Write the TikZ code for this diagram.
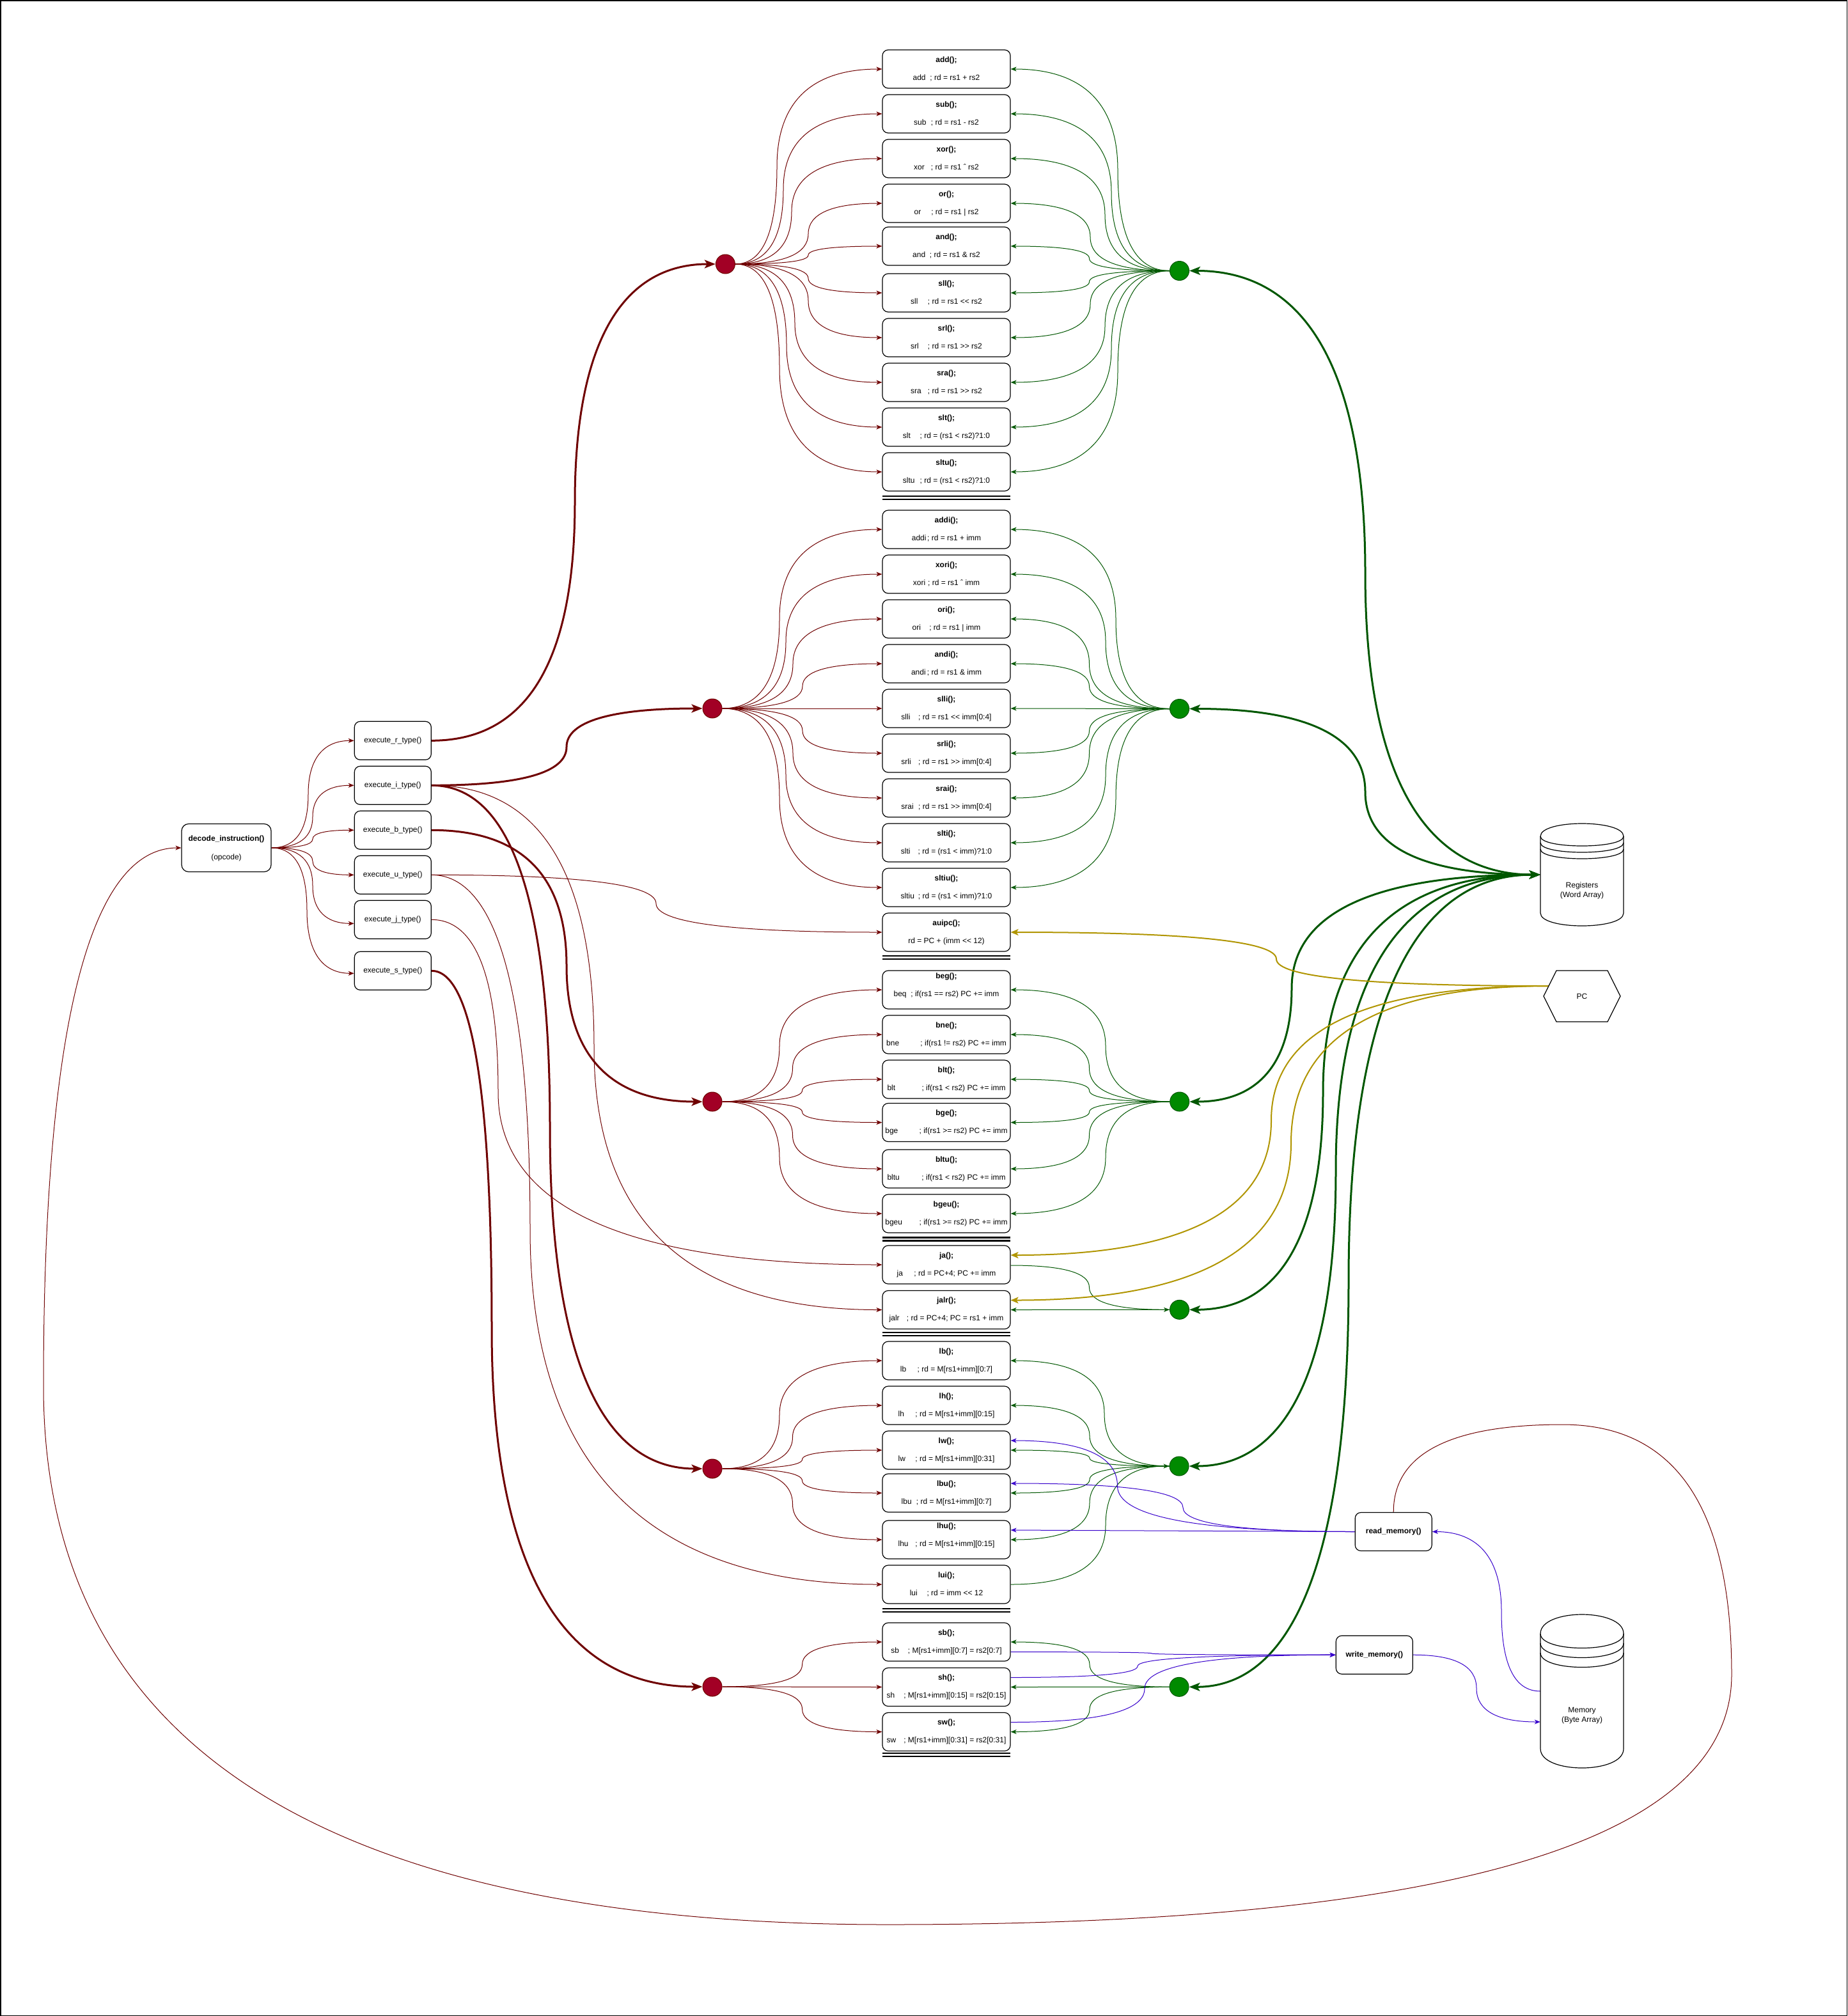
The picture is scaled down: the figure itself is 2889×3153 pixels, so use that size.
\documentclass[tikz,border=0pt]{standalone}
\usepackage{fontspec}
\setmainfont{Liberation Sans}
\usetikzlibrary{arrows.meta,calc}

\definecolor{dred}{HTML}{6F0000}
\definecolor{cred}{HTML}{A20025}
\definecolor{dgreen}{HTML}{005700}
\definecolor{cgreen}{HTML}{008A00}
\definecolor{gold}{HTML}{B09500}
\definecolor{indigo}{HTML}{3700CC}

\pgfdeclarelayer{bg}
\pgfdeclarelayer{edges}
\pgfsetlayers{bg,edges,main}

% shift operators without the << / >> guillemet mapping
\newcommand\shl{<\kern0pt<}
\newcommand\shr{>\kern0pt>}
% mnemonic column of a description line
\newcommand\mnem[2][26.7pt]{\makebox[#1][l]{#2}}

\tikzset{
  every node/.style={font=\fontsize{12}{14}\selectfont, inner sep=0pt},
  bt/.style={font=\fontsize{12}{14}\selectfont\bfseries},
  box/.style={draw, line width=1.2pt, rounded corners=9pt, fill=white},
  ibox/.style={box, minimum width=200pt, minimum height=60pt},
  ebox/.style={box, minimum width=120pt, minimum height=60pt},
  rdot/.style={circle, draw=dred, fill=cred, line width=1pt, minimum size=30pt},
  gdot/.style={circle, draw=dgreen, fill=cgreen, line width=1pt, minimum size=30pt},
  sepline/.style={line width=2.2pt},
  tipS/.tip={Stealth[length=9pt,width=7pt,inset=2.5pt]},
  tipL/.tip={Stealth[length=17pt,width=13pt,inset=4pt]},
  tipM/.tip={Stealth[length=12pt,width=10pt,inset=3pt]},
  rl/.style={draw=dred, line width=1pt, -tipS},
  rk/.style={draw=dred, line width=3pt, -tipL},
  gl/.style={draw=dgreen, line width=1pt, -tipS},
  gk/.style={draw=dgreen, line width=3pt, tipL-tipL},
  yl/.style={draw=gold, line width=2pt, -tipM},
  bl/.style={draw=indigo, line width=1pt, -tipS},
  % curved orthogonal connector: two quadratic arcs through a vertical run at x=#1
  dq/.style={to path={
    let \p1=(\tikztostart), \p2=(\tikztotarget) in
    .. controls ({\x1+2/3*(#1pt-\x1)},\y1) and (#1pt,{\y1+(\y2-\y1)/6})
    .. (#1pt,{\y1/2+\y2/2})
    .. controls (#1pt,{\y2-(\y2-\y1)/6}) and ({\x2+2/3*(#1pt-\x2)},\y2)
    .. (\x2,\y2) \tikztonodes}}
}

% instruction box: [text offset] name, centre y, title, description
\newcommand\instrbox[5][0]{%
  \node[ibox] (#2) at (1480,#3) {};
  \node[bt] (#2-t) at (1480,{#3-14+#1}) {#4};
  \node (#2-d) at (1480,{#3+14+#1}) {#5};
}
% group separator (double rule)
\newcommand\groupsep[1]{%
  \draw[sepline] (1380,#1) -- (1580,#1);
  \draw[sepline] (1380,{#1+5}) -- (1580,{#1+5});
}
% datastore cylinder: x0, y0, width, height, cap depth
\newcommand\datastoreshape[5]{%
  \draw[line width=1.2pt, fill=white] (#1,{#2+#5}) .. controls (#1,{#2-#5/3}) and ({#1+#3},{#2-#5/3}) .. ({#1+#3},{#2+#5})
    -- ({#1+#3},{#2+#4-#5}) .. controls ({#1+#3},{#2+#4+#5/3}) and (#1,{#2+#4+#5/3}) .. (#1,{#2+#4-#5}) -- cycle;
  \draw[line width=1.2pt] (#1,{#2+#5}) .. controls (#1,{#2+2*#5}) and ({#1+#3},{#2+2*#5}) .. ({#1+#3},{#2+#5});
  \draw[line width=1.2pt] (#1,{#2+1.5*#5}) .. controls (#1,{#2+2.5*#5}) and ({#1+#3},{#2+2.5*#5}) .. ({#1+#3},{#2+1.5*#5});
  \draw[line width=1.2pt] (#1,{#2+2*#5}) .. controls (#1,{#2+3*#5}) and ({#1+#3},{#2+3*#5}) .. ({#1+#3},{#2+2*#5});
}

\begin{document}
\begin{tikzpicture}[x=1pt,y=-1pt]
\begin{pgfonlayer}{bg}
  \fill[white] (0,0) rectangle (2889,3153);
\end{pgfonlayer}
\useasboundingbox (0,0) rectangle (2889,3153);
\draw[line width=1.5pt] (0.75,0.75) rectangle (2888.25,3152.25);

% ---------------- decoder and dispatchers ----------------
\node[box, minimum width=140pt, minimum height=75pt, rounded corners=11pt] (dec) at (354,1326) {};
\node[bt] (dec-t) at (354,1312) {decode\_instruction()};
\node (dec-d) at (354,1341) {(opcode)};

\node[ebox] (er) at (614.3,1158.3) {execute\_r\_type()};
\node[ebox] (ei) at (614.3,1228.3) {execute\_i\_type()};
\node[ebox] (eb) at (614.3,1298.3) {execute\_b\_type()};
\node[ebox] (eu) at (614.3,1368.3) {execute\_u\_type()};
\node[ebox] (ej) at (614.3,1438.3) {execute\_j\_type()};
\node[ebox] (es) at (614.3,1518.3) {execute\_s\_type()};

% ---------------- R-type ----------------
\instrbox{add}{108}{add();}{\mnem{add}; rd = rs1 + rs2}
\instrbox{sub}{178}{sub();}{\mnem{sub}; rd = rs1 - rs2}
\instrbox{xor}{248}{xor();}{\mnem{xor}; rd = rs1 ˆ rs2}
\instrbox{or}{318}{or();}{\mnem{or}; rd = rs1 | rs2}
\instrbox{and}{385}{and();}{\mnem{and}; rd = rs1 \& rs2}
\instrbox{sll}{458}{sll();}{\mnem{sll}; rd = rs1 \shl{} rs2}
\instrbox{srl}{528}{srl();}{\mnem{srl}; rd = rs1 \shr{} rs2}
\instrbox{sra}{598}{sra();}{\mnem{sra}; rd = rs1 \shr{} rs2}
\instrbox{slt}{668}{slt();}{\mnem{slt}; rd = (rs1 < rs2)?1:0}
\instrbox{sltu}{738}{sltu();}{\mnem{sltu}; rd = (rs1 < rs2)?1:0}
\groupsep{776}

% ---------------- I-type ----------------
\instrbox{addi}{828}{addi();}{\mnem[24.3pt]{addi}; rd = rs1 + imm}
\instrbox{xori}{898}{xori();}{\mnem[23.3pt]{xori}; rd = rs1 ˆ imm}
\instrbox{ori}{968}{ori();}{\mnem{ori}; rd = rs1 | imm}
\instrbox{andi}{1038}{andi();}{\mnem[25pt]{andi}; rd = rs1 \& imm}
\instrbox{slli}{1108}{slli();}{\mnem{slli}; rd = rs1 \shl{} imm[0:4]}
\instrbox{srli}{1178}{srli();}{\mnem{srli}; rd = rs1 \shr{} imm[0:4]}
\instrbox{srai}{1248}{srai();}{\mnem{srai}; rd = rs1 \shr{} imm[0:4]}
\instrbox{slti}{1318}{slti();}{\mnem{slti}; rd = (rs1 < imm)?1:0}
\instrbox{sltiu}{1388}{sltiu();}{\mnem[27.3pt]{sltiu}; rd = (rs1 < imm)?1:0}
\instrbox{auipc}{1458}{auipc();}{rd = PC + (imm \shl{} 12)}
\groupsep{1495}

% ---------------- B-type ----------------
\instrbox[-7]{beq}{1548}{beg();}{\mnem{beq}; if(rs1 == rs2) PC += imm}
\instrbox{bne}{1618}{bne();}{\mnem[53.3pt]{bne}; if(rs1 != rs2) PC += imm}
\instrbox{blt}{1688}{blt();}{\mnem[54pt]{blt}; if(rs1 < rs2) PC += imm}
\instrbox{bge}{1755.5}{bge();}{\mnem[53.3pt]{bge}; if(rs1 >= rs2) PC += imm}
\instrbox{bltu}{1828}{bltu();}{\mnem[54pt]{bltu}; if(rs1 < rs2) PC += imm}
\instrbox{bgeu}{1898}{bgeu();}{\mnem[53.3pt]{bgeu}; if(rs1 >= rs2) PC += imm}
\groupsep{1935.5}

% ---------------- J-type ----------------
\instrbox{ja}{1978}{ja();}{\mnem{ja}; rd = PC+4; PC += imm}
\instrbox{jalr}{2048.5}{jalr();}{\mnem[27.3pt]{jalr}; rd = PC+4; PC = rs1 + imm}
\groupsep{2083.8}

% ---------------- loads / lui ----------------
\instrbox{lb}{2128}{lb();}{\mnem{lb}; rd = M[rs1+imm][0:7]}
\instrbox{lh}{2198}{lh();}{\mnem{lh}; rd = M[rs1+imm][0:15]}
\instrbox{lw}{2268}{lw();}{\mnem{lw}; rd = M[rs1+imm][0:31]}
\instrbox{lbu}{2335}{lbu();}{\mnem[23.3pt]{lbu}; rd = M[rs1+imm][0:7]}
\instrbox[-7]{lhu}{2408}{lhu();}{\mnem{lhu}; rd = M[rs1+imm][0:15]}
\instrbox{lui}{2478}{lui();}{\mnem{lui}; rd = imm \shl{} 12}
\groupsep{2516.3}

% ---------------- stores ----------------
\instrbox{sb}{2568}{sb();}{\mnem{sb}; M[rs1+imm][0:7] = rs2[0:7]}
\instrbox{sh}{2638.5}{sh();}{\mnem{sh}; M[rs1+imm][0:15] = rs2[0:15]}
\instrbox{sw}{2708.5}{sw();}{\mnem{sw}; M[rs1+imm][0:31] = rs2[0:31]}
\groupsep{2742}

% ---------------- junction dots ----------------
\node[rdot] (rr) at (1134.4,413) {};
\node[rdot] (ir) at (1114,1108) {};
\node[rdot] (br) at (1114,1723) {};
\node[rdot] (lr) at (1114,2297) {};
\node[rdot] (sr) at (1114,2638) {};
\node[gdot] (rg) at (1844.5,423.5) {};
\node[gdot] (ig) at (1844.5,1108.5) {};
\node[gdot] (bg) at (1844.7,1723) {};
\node[gdot] (jg) at (1844.5,2048.3) {};
\node[gdot] (lg) at (1844,2293) {};
\node[gdot] (sg) at (1844,2638.3) {};

% ---------------- register file, PC, memory ----------------
\datastoreshape{2409}{1288}{130}{160}{20}
\node[minimum width=130pt, minimum height=160pt] (regs) at (2474,1368) {};
\node[align=center, font=\fontsize{12}{15}\selectfont] (regs-t) at (2474,1393) {Registers\\(Word Array)};

\draw[line width=1.2pt, fill=white] (2414,1558) -- (2434,1518) -- (2514,1518) -- (2534,1558) -- (2514,1598) -- (2434,1598) -- cycle;
\node (pc) at (2474,1558) {PC};
\coordinate (pcout) at (2422,1542);

\datastoreshape{2409}{2525}{130}{240}{30}
\node[minimum width=130pt, minimum height=240pt] (mem) at (2474,2645) {};
\node[align=center, font=\fontsize{12}{15}\selectfont] (mem-t) at (2474,2683) {Memory\\(Byte Array)};

\node[ebox, bt] (rm) at (2179.2,2395.5) {read\_memory()};
\node[ebox, bt] (wm) at (2149.3,2588.2) {write\_memory()};

% ---------------- connectors ----------------
\begin{pgfonlayer}{edges}
% decoder fan-out
\draw[rl] (dec.east) to[dq=482] (er.west);
\draw[rl] (dec.east) to[dq=489] (ei.west);
\draw[rl] (dec.east) to[dq=489] (eb.west);
\draw[rl] (dec.east) to[dq=489] (eu.west);
\draw[rl] (dec.east) to[dq=489] ([yshift=-6pt]ej.west);
\draw[rl] (dec.east) to[dq=480] ([yshift=-4pt]es.west);

% dispatch to the groups
\draw[rk] (er.east) to[dq=899] (rr.west);
\draw[rk] (ei.east) to[dq=886] (ir.west);
\draw[rk] (eb.east) to[dq=886] (br.west);
\draw[rk] (ei.east) to[dq=860] (lr.west);
\draw[rk] (es.east) to[dq=769] (sr.west);
\draw[rl] (eu.east) to[dq=1026] (auipc.west);
\draw[rl] (eu.east) to[dq=829] (lui.west);
\draw[rl] (ej.east) to[dq=779] (ja.west);
\draw[rl] (ei.east) to[dq=929] (jalr.west);

% operation fan-outs
\foreach \bx/\mm in {add/1215,sub/1225,xor/1238,or/1264,and/1264,sll/1264,srl/1264,sra/1243,slt/1230,sltu/1219}
  \draw[rl] (rr.east) to[dq=\mm] (\bx.west);
\foreach \bx/\mm in {addi/1219,xori/1229,ori/1240,andi/1255,srli/1255,srai/1240,slti/1229,sltiu/1219}
  \draw[rl] (ir.east) to[dq=\mm] (\bx.west);
\draw[rl] (ir.east) -- (slli.west);
\foreach \bx/\mm in {beq/1219,bne/1239.5,blt/1254.6,bge/1254.6,bltu/1239.5,bgeu/1219}
  \draw[rl] (br.east) to[dq=\mm] (\bx.west);
\foreach \bx/\mm in {lb/1219,lh/1239.5,lw/1254.6,lbu/1254.6,lhu/1239.5}
  \draw[rl] (lr.east) to[dq=\mm] (\bx.west);
\foreach \bx/\mm in {sb/1254.6,sw/1254.6}
  \draw[rl] (sr.east) to[dq=\mm] (\bx.west);
\draw[rl] (sr.east) -- (sh.west);

% register write-back fan-ins
\foreach \bx/\mm in {add/1748,sub/1738,xor/1728,or/1705,and/1703.5,sll/1703.5,srl/1705,sra/1728,slt/1738,sltu/1748}
  \draw[gl] (rg.west) to[dq=\mm] (\bx.east);
\foreach \bx/\mm in {addi/1745,xori/1729,ori/1703.5,andi/1703.5,srli/1703.5,srai/1703.5,slti/1729,sltiu/1745}
  \draw[gl] (ig.west) to[dq=\mm] (\bx.east);
\draw[gl] (ig.west) -- (slli.east);
\foreach \bx/\mm in {beq/1729,bne/1703.5,blt/1703.5,bge/1703.5,bltu/1703.5,bgeu/1729}
  \draw[gl] (bg.west) to[dq=\mm] (\bx.east);
\draw[gl] ([yshift=-1pt]ja.east) to[dq=1703.5] (jg.west);
\draw[gl] (jg.west) -- (jalr.east);
\foreach \bx/\mm in {lb/1727,lh/1704,lw/1704,lbu/1704,lhu/1704}
  \draw[gl] (lg.west) to[dq=\mm] (\bx.east);
\draw[gl] (lui.east) to[dq=1729] (lg.west);
\foreach \bx/\mm in {sb/1704,sw/1704}
  \draw[gl] (sg.west) to[dq=\mm] (\bx.east);
\draw[gl] (sg.west) -- (sh.east);

% register file links
\foreach \bx/\mm in {rg/2135,ig/2135,bg/2020,jg/2069,lg/2089,sg/2109}
  \draw[gk] (\bx.east) to[dq=\mm] (regs.west);

% program counter
\draw[yl] (pcout) to[dq=1996] (auipc.east);
\draw[yl] (pcout) to[dq=1988] ([yshift=15pt]ja.east);
\draw[yl] (pcout) to[dq=2019] ([yshift=15pt]jalr.east);

% memory access
\draw[bl] (rm.west) to[dq=1747.5] ([yshift=15pt]lw.east);
\draw[bl] (rm.west) to[dq=1850] ([yshift=15pt]lbu.east);
\draw[bl] (rm.west) -- ([yshift=15pt]lhu.east);
\draw[bl] ([yshift=-15.6pt]sb.east) to[dq=1801] (wm.west);
\draw[bl] ([yshift=15pt]sh.east) to[dq=1779] (wm.west);
\draw[bl] ([yshift=15pt]sw.east) to[dq=1790] (wm.west);
\draw[bl] (mem.west) to[dq=2348] (rm.east);
\draw[bl] (wm.east) to[dq=2309] ([yshift=-48pt]mem.west);

% loop back to the decoder
\draw[rl] (rm.north) .. controls (2179,2274) and (2267,2228) .. (2443.5,2228)
  .. controls (2620,2228) and (2708,2358) .. (2708,2619)
  .. controls (2708,2880) and (2268,3010) .. (1388,3010)
  .. controls (508,3010) and (68,2729) .. (68,2168)
  .. controls (68,1607) and (140,1326) .. (dec.west);
\end{pgfonlayer}
\end{tikzpicture}
\end{document}
